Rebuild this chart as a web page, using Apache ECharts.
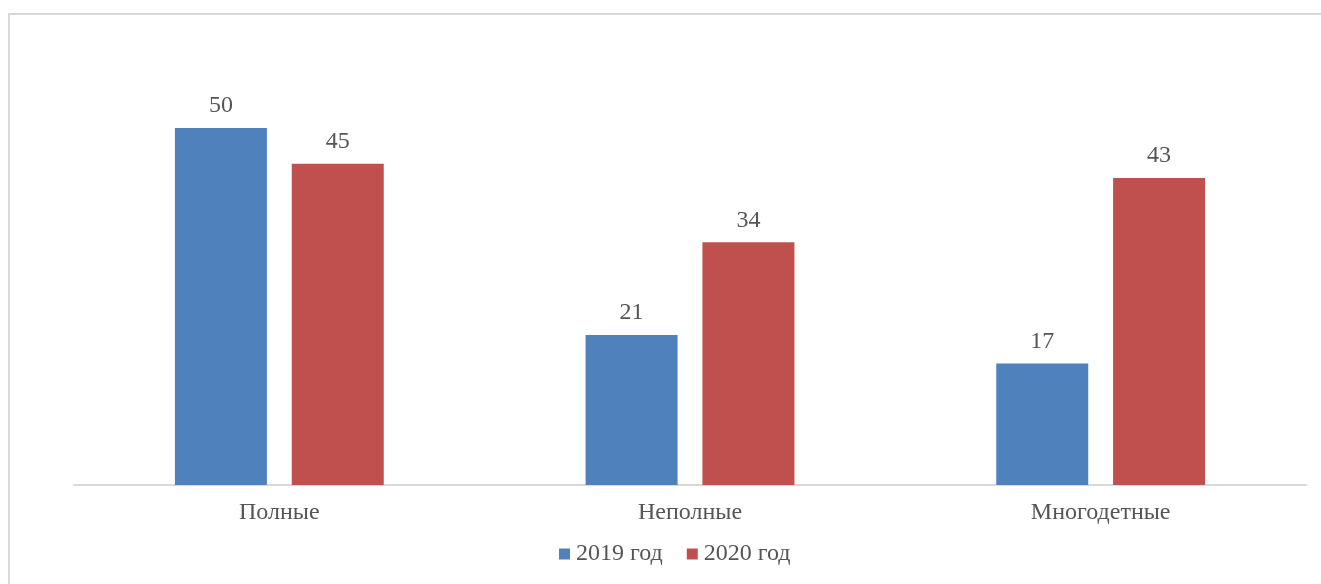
<!DOCTYPE html>
<html>
<head>
<meta charset="utf-8">
<script src="https://cdn.jsdelivr.net/npm/echarts@6/dist/echarts.min.js"></script>
<style>
html,body{margin:0;padding:0;background:#fff;}
#frame{position:absolute;left:8px;top:13px;width:1330px;height:600px;border:2px solid #d9d9d9;box-sizing:border-box;}
#chart{position:absolute;left:0;top:0;width:1321px;height:584px;}
</style>
</head>
<body>
<div id="frame"></div>
<div id="chart"></div>
<script>
const categories = ['Полные', 'Неполные', 'Многодетные'];
const seriesNames = ['2019 год', '2020 год'];
const values2019 = [50, 21, 17];
const values2020 = [45, 34, 43];

const font = '"Liberation Serif", "Times New Roman", serif';
const textColor = '#555555';
const chart = echarts.init(document.getElementById('chart'), null, {renderer: 'canvas'});
chart.setOption({
  backgroundColor: 'transparent',
  animation: false,
  grid: {left: 74, right: 15, top: 56.6, bottom: 99, containLabel: false},
  legend: {
    bottom: 13,
    left: 554,
    itemWidth: 11,
    itemHeight: 11,
    itemGap: 24,
    icon: 'rect',
    textStyle: {fontFamily: font, fontSize: 24, color: textColor, padding: [0, 0, 0, 1]},
    data: seriesNames
  },
  xAxis: {
    type: 'category',
    data: categories,
    axisLine: {lineStyle: {color: '#d9d9d9', width: 2}},
    axisTick: {show: false},
    axisLabel: {fontFamily: font, fontSize: 24, color: textColor, margin: 16}
  },
  yAxis: {
    type: 'value',
    min: 0,
    max: 60,
    show: false,
    splitLine: {show: false}
  },
  series: [
    {
      name: seriesNames[0],
      type: 'bar',
      data: values2019,
      barWidth: 92,
      barGap: '27%',
      itemStyle: {color: '#4F81BD'},
      label: {show: true, position: 'top', distance: 10, fontFamily: font, fontSize: 24, color: textColor}
    },
    {
      name: seriesNames[1],
      type: 'bar',
      data: values2020,
      barWidth: 92,
      itemStyle: {color: '#C0504D'},
      label: {show: true, position: 'top', distance: 10, fontFamily: font, fontSize: 24, color: textColor}
    }
  ]
});
</script>
</body>
</html>
